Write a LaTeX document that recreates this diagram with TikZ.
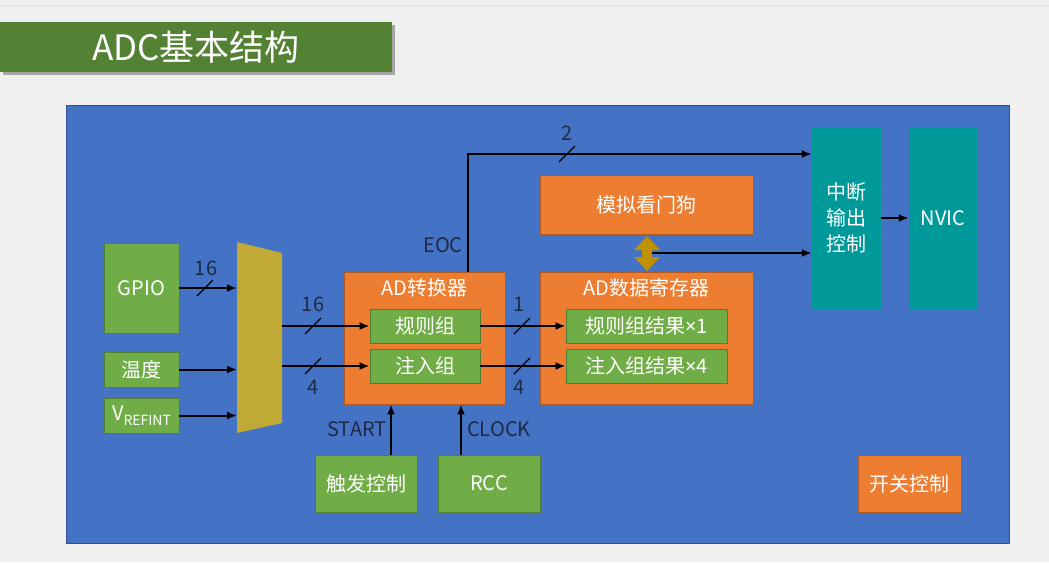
\documentclass[tikz,border=0pt]{standalone}
\usepackage{fontspec}
\setmainfont{Noto Sans CJK SC}
\newfontfamily\latinfont{Noto Sans}
\usetikzlibrary{arrows.meta}

\definecolor{pagegray}{HTML}{F0F0F0}
\definecolor{titlegreen}{HTML}{548235}
\definecolor{panelblue}{HTML}{4472C4}
\definecolor{paneledge}{HTML}{2F528F}
\definecolor{boxgreen}{HTML}{70AD47}
\definecolor{greenedge}{HTML}{507E32}
\definecolor{boxorange}{HTML}{ED7D31}
\definecolor{orangeedge}{HTML}{AE5A21}
\definecolor{boxteal}{HTML}{009999}
\definecolor{muxgold}{HTML}{C0A935}
\definecolor{wdgold}{HTML}{BF9000}
\definecolor{labelnavy}{HTML}{1F2A44}

\tikzset{
  greenbox/.style={draw=greenedge, line width=0.8pt, fill=boxgreen, text=white, inner sep=0pt},
  orangebox/.style={draw=orangeedge, line width=0.8pt, fill=boxorange, text=white, inner sep=0pt},
  tealbox/.style={fill=boxteal, text=white, inner sep=0pt, align=center},
  wire/.style={line width=2pt},
  busmark/.style={line width=1.2pt},
  buslabel/.style={text=labelnavy, inner sep=0pt},
}

\begin{document}
\begin{tikzpicture}[x=1pt, y=-1pt, every node/.style={font=\fontsize{20}{26}\selectfont}, >={Latex[length=10pt, width=8pt]}]
	\useasboundingbox (0,0) rectangle (1049,562);
	\fill[pagegray] (0,0) rectangle (1049,562);
	\draw[black!12, line width=1pt] (0,5) -- (1049,5);
	% title bar
	\fill[black!35] (3,25) rectangle (395,75);
	\fill[titlegreen] (0,22) rectangle (392,72);
	\node[text=white, font=\fontsize{35}{35}\selectfont] (title) at (196,47) {ADC基本结构};
	% panel
	\filldraw[fill=panelblue, draw=paneledge, line width=0.8pt] (66,105) rectangle (1009,543);

	% inputs
	\node[greenbox, minimum width=75pt, minimum height=90pt] (gpio) at (141.5,288) {GPIO};
	\node[greenbox, minimum width=75pt, minimum height=35pt] (temp) at (141.5,369.5) {温度};
	\node[greenbox, minimum width=75pt, minimum height=35pt] (vref) at (141.5,415.5) {V\raisebox{-0.4ex}{\fontsize{14}{14}\selectfont REFINT}};

	% multiplexer
	\fill[muxgold] (237,242) -- (282,253) -- (282,423) -- (237,433) -- cycle;
	\coordinate (muxin) at (237,0);
	\coordinate (muxout) at (282,0);

	% AD converter
	\node[orangebox, minimum width=161pt, minimum height=132pt] (adc) at (424.5,338) {};
	\node[text=white] (adctitle) at (424.5,288) {AD转换器};
	\node[greenbox, minimum width=110pt, minimum height=34pt] (regular) at (425,326) {规则组};
	\node[greenbox, minimum width=110pt, minimum height=34pt] (inject) at (425,366) {注入组};

	% data register
	\node[orangebox, minimum width=213pt, minimum height=132pt] (dreg) at (646.5,338) {};
	\node[text=white] (dregtitle) at (646.5,288) {AD数据寄存器};
	\node[greenbox, minimum width=161pt, minimum height=34pt] (regres) at (646.5,326) {规则组结果{\latinfont ×}1};
	\node[greenbox, minimum width=161pt, minimum height=34pt] (injres) at (646.5,366) {注入组结果{\latinfont ×}4};

	% watchdog
	\node[orangebox, minimum width=213pt, minimum height=59pt] (wdog) at (646.5,204.5) {模拟看门狗};
	\fill[wdgold] (647,236) -- (660,250) -- (652,250) -- (652,257) -- (660,257) -- (647,271)
		-- (634,257) -- (642,257) -- (642,250) -- (634,250) -- cycle;
	\coordinate (wdarrow) at (652,253);

	% interrupt
	\node[tealbox, minimum width=69pt, minimum height=182pt] (irq) at (846.5,218) {中断\\输出\\控制};
	\node[tealbox, minimum width=68pt, minimum height=182pt] (nvic) at (943,218) {NVIC};

	% bottom
	\node[greenbox, minimum width=102pt, minimum height=57pt] (trig) at (366,483.5) {触发控制};
	\node[greenbox, minimum width=102pt, minimum height=57pt] (rcc) at (489,483.5) {RCC};
	\node[orangebox, minimum width=103pt, minimum height=57pt] (onoff) at (909.5,483.5) {开关控制};

	% connectors
	\draw[wire, ->] (gpio.east) -- (gpio.east -| muxin);
	\draw[wire, ->] (temp.east) -- (temp.east -| muxin);
	\draw[wire, ->] (vref.east) -- (vref.east -| muxin);
	\draw[wire, ->] (regular.west -| muxout) -- (regular.west);
	\draw[wire, ->] (inject.west -| muxout) -- (inject.west);
	\draw[wire, ->] (regular.east) -- (regres.west);
	\draw[wire, ->] (inject.east) -- (injres.west);
	\coordinate (eoc) at (468,154);
	\draw[wire, ->] (adc.north -| eoc) -- (eoc) -- (eoc -| irq.west);
	\draw[wire, ->] (wdarrow) -- (wdarrow -| irq.west);
	\draw[wire, ->] (irq.east) -- (nvic.west);
	\draw[wire, ->] ([xshift=25pt]trig.north) -- ([xshift=25pt]trig.north |- adc.south);
	\draw[wire, ->] ([xshift=-28pt]rcc.north) -- ([xshift=-28pt]rcc.north |- adc.south);

	% bus widths
	\draw[busmark] (205,288) +(-8,8) -- +(8,-8);
	\node[buslabel] (gpiow) at (206,268) {16};
	\draw[busmark] (313,326) +(-8,8) -- +(8,-8);
	\node[buslabel] (regw) at (313,304) {16};
	\draw[busmark] (313,366) +(-8,8) -- +(8,-8);
	\node[buslabel] (injw) at (313,387) {4};
	\draw[busmark] (522,326) +(-8,8) -- +(8,-8);
	\node[buslabel] (regresw) at (519,304) {1};
	\draw[busmark] (522,366) +(-8,8) -- +(8,-8);
	\node[buslabel] (injresw) at (519,387) {4};
	\draw[busmark] (567,154) +(-8,8) -- +(8,-8);
	\node[buslabel] (eocw) at (567,133) {2};
	\node[buslabel] (eoclabel) at (443,245) {EOC};
	\node[buslabel] (startlabel) at (357,429) {START};
	\node[buslabel] (clocklabel) at (499,429) {CLOCK};
\end{tikzpicture}
\end{document}
